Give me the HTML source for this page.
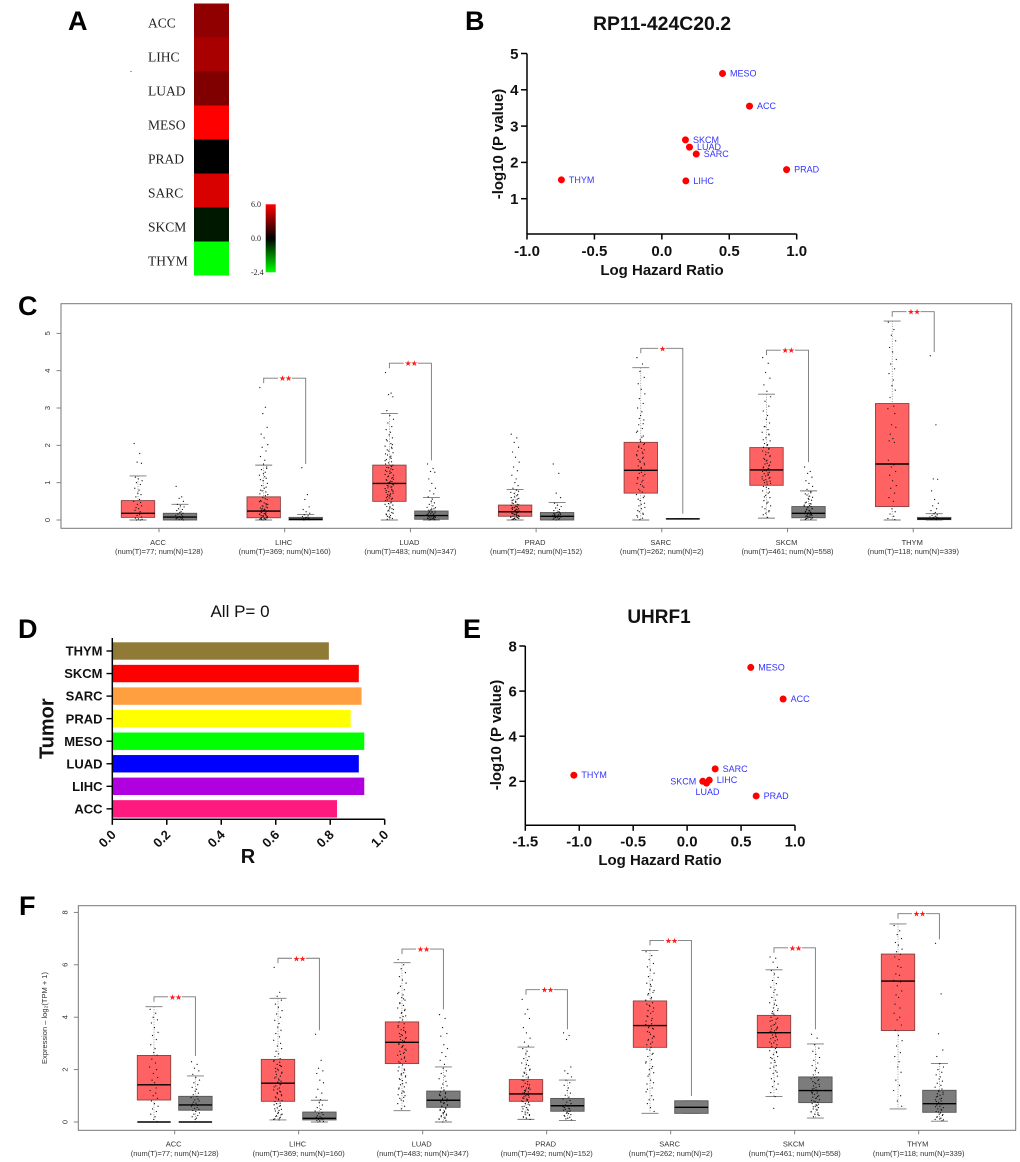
<!DOCTYPE html>
<html lang="en">
<head>
<meta charset="utf-8">
<title>Pan-cancer figure panels A-F</title>
<style>
html,body{margin:0;padding:0;background:#fff;}
svg{display:block;font-family:"Liberation Sans",Arial,sans-serif;filter:blur(0.3px);}
</style>
</head>
<body>
<svg id="figure" xmlns="http://www.w3.org/2000/svg" width="1020" height="1162" viewBox="0 0 1020 1162">
<defs>
<linearGradient id="cbar" x1="0" y1="0" x2="0" y2="1">
<stop offset="0" stop-color="#ff0000"/><stop offset="0.5" stop-color="#000000"/><stop offset="1" stop-color="#00ff00"/>
</linearGradient>
</defs>
<rect x="0" y="0" width="1020" height="1162" fill="#fff"/>
<g font-weight="bold" font-size="27" fill="#000">
<text x="68" y="30">A</text>
<text x="465" y="30">B</text>
<text x="18" y="315">C</text>
<text x="18" y="638">D</text>
<text x="463" y="638">E</text>
<text x="19" y="915">F</text>
</g>
<circle cx="131" cy="71.5" r="0.6" fill="#555"/>
</svg>
<script>
/* ---------- Panel A: heatmap ---------- */
const heatTumors = ['ACC','LIHC','LUAD','MESO','PRAD','SARC','SKCM','THYM'];
const heatValues = [3.4,3.95,3.0,6.0,0.0,5.1,-0.23,-2.4];
const heatLegendTicks = [6.0,0.0,-2.4];

/* ---------- Panel B: scatter ---------- */
const bTumors = ['MESO','ACC','SKCM','LUAD','SARC','PRAD','THYM','LIHC'];
const bHazard = [0.45,0.65,0.175,0.205,0.255,0.925,-0.745,0.178];
const bLogP = [4.45,3.55,2.62,2.42,2.23,1.8,1.52,1.49];
const bXTicks = [-1.0,-0.5,0.0,0.5,1.0];
const bYTicks = [1,2,3,4,5];

/* ---------- Panel E: scatter ---------- */
const eTumors = ['MESO','ACC','SARC','LIHC','LUAD','SKCM','THYM','PRAD'];
const eHazard = [0.59,0.89,0.26,0.205,0.18,0.145,-1.05,0.64];
const eLogP = [7.05,5.65,2.55,2.05,1.92,2.0,2.27,1.35];
const eXTicks = [-1.5,-1.0,-0.5,0.0,0.5,1.0];
const eYTicks = [2,4,6,8];

/* ---------- Panel D: bars ---------- */
const dTumors = ['THYM','SKCM','SARC','PRAD','MESO','LUAD','LIHC','ACC'];
const dValues = [0.795,0.905,0.915,0.875,0.925,0.905,0.925,0.825];
const dXTicks = [0.0,0.2,0.4,0.6,0.8,1.0];
const dColors = ['#8f7a36','#ff0000','#ff9f40','#ffff00','#00ff00','#0000ff','#b000e0','#ff1a80'];

/* ---------- Box panels shared ---------- */
const boxTumors = ['ACC','LIHC','LUAD','PRAD','SARC','SKCM','THYM'];
const boxCounts = ['(num(T)=77; num(N)=128)','(num(T)=369; num(N)=160)','(num(T)=483; num(N)=347)','(num(T)=492; num(N)=152)','(num(T)=262; num(N)=2)','(num(T)=461; num(N)=558)','(num(T)=118; num(N)=339)'];

/* ---------- Panel C: box statistics ---------- */
const cYTicks = [0,1,2,3,4,5];
const cTLow = [0,0,0,0,0,0.05,0];
const cTQ1 = [0.07,0.06,0.5,0.1,0.72,0.93,0.36];
const cTMed = [0.18,0.24,0.98,0.22,1.33,1.34,1.5];
const cTQ3 = [0.52,0.62,1.47,0.4,2.08,1.94,3.12];
const cTHigh = [1.18,1.47,2.85,0.82,4.08,3.37,5.33];
const cNLow = [0,0,0,0,0.03,0,0];
const cNQ1 = [0,0,0.02,0,0.03,0.06,0.01];
const cNMed = [0.08,0.02,0.12,0.1,0.03,0.18,0.03];
const cNQ3 = [0.18,0.07,0.24,0.2,0.03,0.36,0.07];
const cNHigh = [0.42,0.15,0.6,0.47,0.03,0.78,0.17];
const cBracketTop = [null,3.8,4.2,null,4.6,4.55,5.58];
const cBracketNormal = [null,1.5,1.6,null,0.17,1.55,4.5];
const cStars = ['','★★','★★','','★','★★','★★'];
const cTDots = [
[2.05,1.78,1.55,1.52,1.15,1.1,1.05,1.0,0.95,0.85,0.8,0.72,0.68,0.62,0.55,0.5,0.47,0.42,0.38,0.33,0.3,0.26,0.22,0.18,0.15,0.12,0.08,0.05,0.03,0.02,0,0],
[3.55,3.02,2.85,2.48,2.3,2.2,2.02,1.95,1.85,1.7,1.6,1.5,1.42,1.35,1.28,1.2,1.12,1.05,0.98,0.92,0.85,0.8,0.75,0.7,0.65,0.6,0.55,0.5,0.46,0.42,0.38,0.35,0.32,0.29,0.26,0.23,0.2,0.18,0.15,0.13,0.11,0.09,0.07,0.05,0.04,0.03,0.02,0.01,0,0.06,0.12,0.17,0.24,0.31,0.44,0.52,0.28,0.1,0.08,0.02,0.57,0.49,0.41,0.37,0.33,0.27,0.25,0.22,0.19,0.16,0.14,0.11,0.06,0.04,0.03,0.68,0.78,0.88,1.08,1.16,1.24,1.38],
[3.95,3.4,3.36,3.3,2.93,2.8,2.7,2.6,2.5,2.42,2.35,2.28,2.2,2.12,2.05,1.98,1.92,1.85,1.8,1.74,1.68,1.62,1.56,1.5,1.45,1.4,1.35,1.3,1.25,1.2,1.16,1.12,1.08,1.04,1.0,0.96,0.92,0.88,0.84,0.8,0.76,0.72,0.68,0.64,0.6,0.56,0.52,0.48,0.44,0.4,0.36,0.32,0.28,0.24,0.2,0.16,0.12,0.08,0.04,0.02,1.37,1.22,1.03,0.91,0.77,0.63,0.35,0.14,1.43,1.33,1.27,1.18,1.14,1.06,1.01,0.94,0.86,0.82,0.74,0.7,0.66,0.58,0.54,0.46,0.42,0.3,0.26,0.18,0.1,0.06,2.15,1.95,1.77,1.65,1.53,1.47,1.41,1.31,1.09,0.99,0.89,0.79,0.69,0.59,2.02,1.88,1.71,1.59],
[2.3,2.2,2.08,1.95,1.82,1.68,1.55,1.42,1.32,1.2,1.1,1.0,0.92,0.85,0.8,0.74,0.68,0.62,0.58,0.54,0.5,0.46,0.42,0.39,0.36,0.33,0.3,0.28,0.26,0.24,0.22,0.2,0.18,0.16,0.14,0.12,0.1,0.08,0.07,0.06,0.05,0.04,0.03,0.02,0.01,0.27,0.23,0.19,0.15,0.11,0.33,0.37,0.09,0.02,0.35,0.31,0.29,0.25,0.21,0.17,0.13,0.09,0.06,0.04,0.41,0.44,0.48,0.52,0.56,0.6,0.65,0.71,0.77],
[4.35,4.18,3.98,3.82,3.65,3.5,3.38,3.25,3.12,3.0,2.9,2.8,2.68,2.55,2.45,2.35,2.25,2.15,2.05,1.98,1.92,1.85,1.78,1.72,1.65,1.58,1.52,1.45,1.38,1.32,1.25,1.18,1.1,1.02,0.95,0.88,0.82,0.75,0.68,0.6,0.52,0.45,0.38,0.3,0.25,0.18,0.12,0.05,0.01,1.88,1.62,1.41,1.22,2.72,2.58,2.38,2.22,2.1,2.02,1.95,1.82,1.75,1.68,1.55,1.48,1.35,1.28,1.14,1.06,0.98,0.91,0.78,0.64,0.56,0.42,0.34,0.22,0.15,0.08],
[4.35,4.2,3.95,3.8,3.62,3.45,3.3,3.18,3.05,2.92,2.8,2.7,2.6,2.5,2.42,2.35,2.28,2.2,2.12,2.05,2.0,1.95,1.9,1.85,1.8,1.75,1.7,1.65,1.6,1.55,1.5,1.45,1.4,1.36,1.32,1.28,1.24,1.2,1.16,1.12,1.08,1.04,1.0,0.96,0.9,0.84,0.78,0.72,0.66,0.6,0.52,0.45,0.38,0.3,0.22,0.14,0.07,1.58,1.47,1.33,1.26,1.1,1.92,1.82,1.72,1.62,1.52,1.42,1.38,1.3,1.22,1.18,1.14,1.06,1.02,0.98,2.5,2.3,2.15,2.02,0.88,0.75,0.62,0.48,0.35,0.25,0.18],
[5.3,5.1,4.95,4.8,4.62,4.5,4.3,4.18,4.05,3.92,3.75,3.6,3.48,3.28,3.05,2.98,2.85,2.55,2.48,2.3,2.18,2.12,2.08,1.6,1.48,1.42,1.3,1.2,1.05,0.92,0.85,0.72,0.6,0.5,0.3,0.22,0.16,0.1,0.04,0.01]
];
const cNDots = [
[0.9,0.62,0.58,0.5,0.42,0.38,0.35,0.3,0.28,0.25,0.22,0.2,0.18,0.16,0.14,0.12,0.1,0.09,0.08,0.07,0.06,0.05,0.04,0.03,0.02,0.01,0],
[1.4,0.68,0.55,0.35,0.28,0.22,0.18,0.14,0.11,0.09,0.07,0.06,0.05,0.04,0.03,0.02,0.02,0.01,0.01,0],
[1.5,1.38,1.3,1.28,1.1,0.98,0.85,0.78,0.7,0.62,0.56,0.5,0.46,0.42,0.38,0.34,0.3,0.27,0.24,0.22,0.2,0.18,0.16,0.14,0.12,0.11,0.1,0.09,0.08,0.07,0.06,0.05,0.04,0.03,0.02,0.01,0,0.13,0.15,0.09,0.17,0.19,0.21,0.23,0.11,0.07,0.05,0.03,0.02,0.01,0.26,0.29,0.33],
[1.5,1.25,0.72,0.6,0.45,0.4,0.36,0.32,0.28,0.25,0.22,0.2,0.18,0.16,0.14,0.12,0.1,0.09,0.08,0.07,0.06,0.05,0.04,0.02,0.01,0,0.15,0.13,0.11,0.09,0.07,0.21,0.17],
[],
[1.42,1.3,1.25,1.15,1.05,0.98,0.9,0.82,0.76,0.7,0.64,0.58,0.53,0.48,0.44,0.4,0.36,0.33,0.3,0.27,0.24,0.22,0.2,0.18,0.16,0.14,0.12,0.1,0.08,0.06,0.04,0.02,0.01,0.25,0.19,0.15,0.11,0.07,0.37,0.43,0.35,0.31,0.29,0.26,0.23,0.21,0.17,0.13,0.09,0.05,0.03,0.55,0.61,0.67,0.73,0.46,0.39],
[4.4,2.55,1.1,1.09,0.78,0.55,0.45,0.38,0.3,0.25,0.2,0.17,0.14,0.12,0.1,0.08,0.07,0.06,0.05,0.04,0.03,0.02,0.01]
];

/* ---------- Panel F: box statistics ---------- */
const fYTicks = [0,2,4,6,8];
const fTLow = [0,0.08,0.43,0.1,0.33,0.97,0.5];
const fTQ1 = [0.84,0.79,2.23,0.79,2.85,2.84,3.49];
const fTMed = [1.42,1.48,3.04,1.07,3.68,3.41,5.38];
const fTQ3 = [2.54,2.39,3.82,1.62,4.62,4.07,6.41];
const fTHigh = [4.4,4.72,6.08,2.86,6.55,5.81,7.56];
const fNLow = [0,0,0,0.06,0.33,0.15,0.03];
const fNQ1 = [0.45,0.08,0.56,0.41,0.33,0.74,0.37];
const fNMed = [0.65,0.14,0.83,0.62,0.56,1.2,0.7];
const fNQ3 = [0.98,0.38,1.18,0.9,0.81,1.72,1.21];
const fNHigh = [1.76,0.83,2.1,1.6,0.81,2.98,2.23];
const fZeroLine = ['ACC'];
const fBracketTop = [4.78,6.25,6.6,5.05,6.93,6.65,7.95];
const fBracketNormal = [2.52,3.5,4.3,3.54,0.99,3.54,6.97];
const fStars = ['★★','★★','★★','★★','★★','★★','★★'];
const fTDots = [
[4.3,4.15,4.0,3.9,3.78,3.6,3.42,3.3,3.15,2.95,2.8,2.65,2.55,2.4,2.25,2.1,2.0,1.85,1.7,1.6,1.5,1.42,1.3,1.2,1.1,1.0,0.9,0.8,0.7,0.6,0.5,0.4,0.3,0.2,0.1,0.02,0],
[5.9,4.95,4.8,4.65,4.5,4.38,4.25,4.12,4.0,3.88,3.76,3.62,3.5,3.38,3.25,3.12,3.0,2.9,2.8,2.7,2.6,2.5,2.42,2.35,2.28,2.2,2.12,2.05,1.98,1.9,1.82,1.75,1.68,1.6,1.52,1.45,1.38,1.3,1.22,1.15,1.08,1.0,0.92,0.85,0.78,0.72,0.66,0.6,0.54,0.48,0.42,0.36,0.3,0.24,0.18,0.12,0.08,1.26,1.56,1.92,2.16,2.32,2.14,2.02,1.86,1.72,1.64,1.48,1.42,1.34,1.18,1.12,1.04,0.96,0.88,0.82,0.7,0.63,0.5,0.44,0.33,0.27,0.21,0.15,0.1],
[6.2,6.0,5.85,5.7,5.55,5.42,5.3,5.18,5.05,4.95,4.85,4.75,4.65,4.55,4.45,4.35,4.25,4.15,4.05,3.98,3.9,3.82,3.75,3.68,3.6,3.52,3.45,3.38,3.3,3.22,3.15,3.08,3.0,2.92,2.85,2.78,2.7,2.62,2.55,2.48,2.4,2.32,2.25,2.18,2.1,2.02,1.95,1.88,1.8,1.72,1.65,1.58,1.5,1.42,1.34,1.26,1.18,1.1,1.0,0.9,0.8,0.7,0.6,0.5,3.4,3.26,3.11,2.96,2.66,3.62,3.5,3.34,3.18,3.04,2.88,2.74,2.58,2.44,2.3,4.02,4.18,4.3,4.52,4.7,4.9,1.98,1.84,1.76,1.62,1.46,1.3,1.14,1.04,0.94,0.84],
[4.68,4.3,4.12,3.95,3.6,3.4,3.2,3.05,2.9,2.8,2.7,2.6,2.5,2.42,2.35,2.25,2.15,2.05,1.98,1.9,1.82,1.75,1.68,1.6,1.54,1.48,1.42,1.36,1.3,1.25,1.2,1.15,1.1,1.05,1.0,0.95,0.9,0.85,0.8,0.75,0.7,0.65,0.6,0.55,0.5,0.45,0.4,0.35,0.3,0.25,0.2,0.15,0.1,1.12,1.02,0.92,0.82,1.22,1.32,1.58,1.44,1.34,1.28,1.18,1.08,0.98,0.88,0.78,0.68,0.58,0.48,0.38,0.28,0.18,2.2,2.02,1.86,1.72],
[6.5,6.35,6.2,6.05,5.92,5.8,5.68,5.55,5.42,5.3,5.18,5.05,4.95,4.85,4.75,4.65,4.55,4.45,4.35,4.25,4.15,4.05,3.95,3.85,3.75,3.65,3.55,3.45,3.35,3.25,3.15,3.05,2.95,2.85,2.75,2.62,2.5,2.38,2.25,2.12,2.0,1.88,1.75,1.6,1.45,1.3,1.15,1.0,0.85,0.85,0.7,0.55,0.4,3.6,3.2,4.5,4.7,4.42,4.22,4.02,3.88,3.72,3.58,3.42,3.28,3.12,2.98,2.78,2.58,2.3,2.05,1.82,1.5,1.25,5.25,5.02,4.9],
[6.3,6.25,6.1,5.9,5.78,5.65,5.52,5.4,5.28,5.15,5.05,4.95,4.85,4.75,4.65,4.55,4.45,4.35,4.25,4.15,4.08,4.0,3.92,3.85,3.78,3.7,3.62,3.55,3.48,3.4,3.32,3.25,3.18,3.1,3.02,2.95,2.88,2.8,2.72,2.65,2.58,2.5,2.42,2.35,2.25,2.15,2.05,1.95,1.85,1.75,1.65,1.55,1.45,1.35,1.25,1.12,0.97,0.52,3.58,3.44,3.28,3.05,2.85,4.12,3.96,3.88,3.72,3.66,3.52,3.46,3.36,3.22,3.14,2.98,4.5,4.32,4.22,2.68,2.46,2.28,2.1,1.9],
[7.5,7.3,7.15,7.0,6.85,6.75,6.6,6.5,6.4,6.3,6.2,5.95,5.9,5.65,5.6,5.4,5.35,5.2,5.0,4.85,4.75,4.5,4.35,4.15,4.0,3.9,3.7,3.5,3.3,3.1,2.9,2.65,2.5,2.3,2.1,1.9,1.6,1.4,1.2,1.0,0.8,0.6]
];
const fNDots = [
[2.3,2.2,2.05,1.95,1.82,1.7,1.6,1.5,1.42,1.32,1.25,1.18,1.1,1.04,0.98,0.93,0.88,0.84,0.8,0.76,0.72,0.68,0.64,0.6,0.56,0.52,0.48,0.44,0.4,0.35,0.3,0.25,0.2,0.15,0.1],
[3.35,2.35,2.05,1.95,1.85,1.6,1.5,1.25,1.1,0.95,0.85,0.75,0.65,0.55,0.48,0.42,0.36,0.32,0.28,0.24,0.2,0.18,0.16,0.14,0.12,0.1,0.08,0.06,0.04,0.02,0],
[4.1,3.95,3.6,3.38,3.28,2.95,2.8,2.65,2.5,2.35,2.2,2.05,1.95,1.85,1.75,1.65,1.55,1.45,1.38,1.3,1.22,1.15,1.08,1.02,0.96,0.9,0.84,0.78,0.72,0.66,0.6,0.54,0.48,0.42,0.36,0.3,0.24,0.18,0.12,0.06,0,0.88,0.82,0.74,1.0,1.12,1.06,0.94,0.86,0.8,0.76,0.7,0.64,0.58,0.5,0.44,0.38,0.32,0.26,0.2,0.14,0.1],
[3.4,3.3,3.15,2.1,1.95,1.85,1.72,1.6,1.5,1.4,1.3,1.2,1.1,1.02,0.95,0.88,0.82,0.76,0.7,0.65,0.6,0.55,0.5,0.45,0.4,0.34,0.28,0.22,0.15,0.08,0.12,0.18,0.25,0.32,0.38,0.42,0.48,0.52,0.58,0.63],
[],
[3.35,3.2,2.95,2.82,2.7,2.58,2.46,2.35,2.25,2.15,2.05,1.96,1.88,1.8,1.72,1.65,1.58,1.5,1.44,1.38,1.32,1.26,1.2,1.15,1.1,1.05,1.0,0.95,0.9,0.85,0.8,0.75,0.7,0.65,0.6,0.55,0.5,0.45,0.4,0.35,0.3,0.25,0.2,1.23,1.12,0.98,0.82,0.62,1.7,1.62,1.54,1.46,1.36,1.28,1.18,1.08,0.92,0.78,0.68,0.58,0.48,0.38,0.28],
[6.82,4.89,3.37,2.75,2.5,2.23,2.1,2.0,1.9,1.8,1.72,1.64,1.56,1.48,1.4,1.33,1.26,1.2,1.14,1.08,1.02,0.96,0.9,0.85,0.8,0.75,0.7,0.65,0.6,0.55,0.5,0.45,0.4,0.35,0.3,0.25,0.2,0.15,0.1,0.05,1.16,1.06,0.98,0.88,0.78,0.68,0.58,0.48,0.38,0.28,0.18,0.12,0.08]
];
const jitterPattern = [-0.9,0.4,-0.2,0.8,-0.6,0.1,0.95,-0.35,0.55,-0.75,0.25,-0.05,0.7,-0.5,0.35,-1,0.6,-0.15,0.85,-0.45,0.15,-0.7,0.5];

/* ---------- Drawing helpers ---------- */
const NS = 'http://www.w3.org/2000/svg';
const svg = document.getElementById('figure');
function make(tag, attrs, parent){
  const node = document.createElementNS(NS, tag);
  for (const k in attrs) node.setAttribute(k, attrs[k]);
  (parent || svg).appendChild(node);
  return node;
}
function line(parent, x1, y1, x2, y2, stroke, width){
  return make('line', {x1:x1, y1:y1, x2:x2, y2:y2, stroke:stroke, 'stroke-width':width}, parent);
}
function text(parent, x, y, str, style){
  const node = make('text', Object.assign({x:x, y:y}, style), parent);
  node.textContent = str;
  return node;
}

/* ---------- Panel A ---------- */
(function(){
  const g = make('g', {});
  
  
  const top = 3.5, cellH = 34;
  function heatColor(v){
    if (v >= 0) return 'rgb(' + Math.round(v / 6 * 255) + ',0,0)';
    return 'rgb(0,' + Math.round(-v / 2.4 * 255) + ',0)';
  }
  heatTumors.forEach(function(t, i){
    const cell = make('rect', {x:194, y:top + i * cellH, width:35, height:cellH, fill:heatColor(heatValues[i])}, g);
    
    
    const lab = text(g, 148, top + i * cellH + 24, t, {'font-family':'"Liberation Serif",serif','font-size':13.5,fill:'#222'});
    
    
  });
  const bar = make('rect', {x:265.7, y:204.3, width:10, height:68, fill:'url(#cbar)'}, g);
  
  
  heatLegendTicks.forEach(function(v){
    const frac = v >= 0 ? 0.5 - 0.5 * v / 6 : 0.5 + 0.5 * (-v) / 2.4;
    const tick = text(g, 251, 204.3 + 68 * frac + 2.5, v.toFixed(1), {'font-family':'"Liberation Serif",serif','font-size':8,fill:'#222'});
    
    
  });
})();

/* ---------- Panels B and E ---------- */
function drawScatter(name, tumors, hazard, logP, xTicks, yTicks, o){
  const g = make('g', {});
  
  
  const xS = function(v){ return o.x0 + (v - xTicks[0]) * o.xUnit; };
  const yS = function(v){ return o.y0 - v * o.yUnit; };
  const tickStyle = {'font-weight':'bold','font-size':15,fill:'#111'};
  const xAxis = line(g, xS(xTicks[0]), o.axisY, xS(xTicks[xTicks.length - 1]), o.axisY, '#000', 1.5);
  
  
  const yAxis = line(g, o.x0, o.axisY, o.x0, yS(yTicks[yTicks.length - 1]), '#000', 1.5);
  
  
  xTicks.forEach(function(v){
    const tk = line(g, xS(v), o.axisY, xS(v), o.axisY + 5.5, '#000', 1.5);
    
    
    const lb = text(g, xS(v), o.xLabelY, v.toFixed(1), Object.assign({'text-anchor':'middle'}, tickStyle));
    
    
  });
  yTicks.forEach(function(v){
    const tk = line(g, o.x0 - 6, yS(v), o.x0, yS(v), '#000', 1.5);
    
    
    const lb = text(g, o.x0 - 8.5, yS(v) + 5.3, String(v), Object.assign({'text-anchor':'end'}, tickStyle));
    
    
  });
  tumors.forEach(function(t, i){
    const px = xS(hazard[i]), py = yS(logP[i]);
    const pt = make('circle', {cx:px, cy:py, r:3.5, fill:'#ff0000'}, g);
    
    
    const place = (o.labelPlace && o.labelPlace[t]) || {dx:7.5, dy:3, anchor:'start'};
    const lb = text(g, px + place.dx, py + place.dy, t, {'font-size':9,fill:'#3333ff','text-anchor':place.anchor});
    
    
  });
  const title = text(g, o.titleX, o.titleY, o.title, {'font-weight':'bold','font-size':o.titleSize,'text-anchor':'middle',fill:'#111'});
  
  
  const xt = text(g, o.xTitleX, o.xTitleY, 'Log Hazard Ratio', {'font-weight':'bold','font-size':15,'text-anchor':'middle',fill:'#111'});
  
  
  const yt = text(g, 0, 0, '-log10 (P value)', {'font-weight':'bold','font-size':15,'text-anchor':'middle',fill:'#111',transform:'translate(' + o.yTitleX + ',' + o.yTitleY + ') rotate(-90)'});
  
  
}
drawScatter('rp11', bTumors, bHazard, bLogP, bXTicks, bYTicks, {
  x0:527, xUnit:134.85, y0:235, yUnit:36.3, axisY:234,
  xLabelY:256, title:'RP11-424C20.2', titleSize:19.4, titleX:662, titleY:30,
  xTitleX:662, xTitleY:275, yTitleX:503, yTitleY:144
});
drawScatter('uhrf1', eTumors, eHazard, eLogP, eXTicks, eYTicks, {
  x0:525.3, xUnit:107.88, y0:826.4, yUnit:22.55, axisY:825.3,
  xLabelY:846.7, title:'UHRF1', titleSize:19, titleX:659, titleY:623,
  xTitleX:660, xTitleY:865, yTitleX:501, yTitleY:735,
  labelPlace:{SKCM:{dx:-6.5,dy:3,anchor:'end'},LUAD:{dx:1,dy:12,anchor:'middle'}}
});

/* ---------- Panel D ---------- */
(function(){
  const g = make('g', {});
  
  
  const xS = function(v){ return 112.3 + v * 272.4; };
  const base = 819.3;
  const bandTop = function(i){ return 642.3 + i * 22.55; };
  dTumors.forEach(function(t, i){
    const bar = make('rect', {x:xS(0), y:bandTop(i), width:xS(dValues[i]) - xS(0), height:17.4, fill:dColors[i]}, g);
    
    
    const tk = line(g, 106.5, bandTop(i) + 8.7, 112.3, bandTop(i) + 8.7, '#000', 1.4);
    
    
    const lb = text(g, 102.5, bandTop(i) + 13.3, t, {'font-weight':'bold','font-size':13,'text-anchor':'end',fill:'#111'});
    
    
  });
  const ya = line(g, 112.3, 638, 112.3, base, '#000', 1.5);
  
  
  const xa = line(g, 112.3, base, xS(1), base, '#000', 1.5);
  
  
  dXTicks.forEach(function(v){
    const tk = line(g, xS(v), base, xS(v), base + 5.5, '#000', 1.5);
    
    
    const lb = text(g, 0, 0, v.toFixed(1), {'font-weight':'bold','font-size':13,'text-anchor':'end',fill:'#111',transform:'translate(' + (xS(v) + 4.5) + ',835.5) rotate(-45)'});
    
    
  });
  const ti = text(g, 240, 617, 'All P= 0', {'font-size':17,'text-anchor':'middle',fill:'#111'});
  
  
  const xt = text(g, 248, 863, 'R', {'font-weight':'bold','font-size':20,'text-anchor':'middle',fill:'#111'});
  
  
  const yt = text(g, 0, 0, 'Tumor', {'font-weight':'bold','font-size':20,'text-anchor':'middle',fill:'#111',transform:'translate(53.3,728.7) rotate(-90)'});
  
  
})();

/* ---------- Panels C and F ---------- */
function drawOneBox(g, cx, low, q1, med, q3, high, y, fill, edge, tag, dots){
  const whisker = line(g, cx, y(high), cx, y(low), '#666', 0.6);
  whisker.setAttribute('stroke-dasharray', '1 1.5');
  
  
  const capTop = line(g, cx - 8.5, y(high), cx + 8.5, y(high), '#777', 0.9);
  
  
  const capLow = line(g, cx - 8.5, y(low), cx + 8.5, y(low), '#777', 0.9);
  
  
  const box = make('rect', {x:cx - 16.7, y:y(q3), width:33.4, height:Math.max(0.01, y(q1) - y(q3)), fill:fill, stroke:edge, 'stroke-width':0.9}, g);
  
  
  dots.forEach(function(v, k){
    const d = make('circle', {cx:cx + jitterPattern[k % jitterPattern.length] * 4.3, cy:y(v), r:0.62, fill:'#111'}, g);
    
    
  });
  const m = line(g, cx - 16.7, y(med), cx + 16.7, y(med), '#000', 1.4);
  
  
}
function drawBoxPanel(name, T, N, bracketTop, bracketNormal, stars, yTicks, o){
  const g = make('g', {});
  
  
  const y = function(v){ return o.y0 - v * o.yUnit; };
  const xT = function(i){ return o.x0 + i * o.xStep; };
  const frame = make('rect', {x:o.left, y:o.top, width:o.right - o.left, height:o.bottom - o.top, fill:'none', stroke:'#777', 'stroke-width':1}, g);
  
  
  yTicks.forEach(function(v){
    const tk = line(g, o.left - 4.5, y(v), o.left, y(v), '#777', 0.9);
    
    
    const lb = text(g, 0, 0, String(v), {'font-size':7.5,'text-anchor':'middle',fill:'#333',transform:'translate(' + (o.left - 11) + ',' + y(v) + ') rotate(-90)'});
    
    
  });
  boxTumors.forEach(function(t, i){
    const c = xT(i), cT = c - o.offset, cN = c + o.offset;
    drawOneBox(g, cT, T.low[i], T.q1[i], T.med[i], T.q3[i], T.high[i], y, '#ff6262', '#8c4040', 'tumor-' + t.toLowerCase(), T.dots[i]);
    drawOneBox(g, cN, N.low[i], N.q1[i], N.med[i], N.q3[i], N.high[i], y, '#7c7c7c', '#565656', 'normal-' + t.toLowerCase(), N.dots[i]);
    if (o.zeroLine.indexOf(t) >= 0) {
      const z1 = line(g, cT - 16.7, y(0), cT + 16.7, y(0), '#000', 1.4);
      
      
      const z2 = line(g, cN - 16.7, y(0), cN + 16.7, y(0), '#000', 1.4);
      
      
    }
    if (bracketTop[i] !== null) {
      const by = y(bracketTop[i]), mid = (cT + cN) / 2 + 0.3;
      const gap = stars[i].length > 1 ? 7 : 4;
      const br = make('path', {d:'M' + cT + ' ' + (by + 5) + 'V' + by + 'H' + (mid - gap) + 'M' + (mid + gap) + ' ' + by + 'H' + cN + 'V' + y(bracketNormal[i]), fill:'none', stroke:'#777', 'stroke-width':0.9}, g);
      
      
      const st = text(g, mid, by + 3, stars[i], {'font-family':'"DejaVu Sans",sans-serif','font-size':8,'letter-spacing':'-1px','text-anchor':'middle',fill:'#ff1a1a'});
      
      
    }
    const tk = line(g, c, o.bottom, c, o.bottom + 4, '#777', 0.9);
    
    
    const lb = text(g, c - 1, o.labelY, t, {'font-size':7.5,'text-anchor':'middle',fill:'#333'});
    
    
    const ct = text(g, c, o.labelY + 9.2, boxCounts[i], {'font-size':7.5,'text-anchor':'middle',fill:'#333'});
    
    
  });
}
drawBoxPanel('c',
  {low:cTLow, q1:cTQ1, med:cTMed, q3:cTQ3, high:cTHigh, dots:cTDots},
  {low:cNLow, q1:cNQ1, med:cNMed, q3:cNQ3, high:cNHigh, dots:cNDots},
  cBracketTop, cBracketNormal, cStars, cYTicks,
  {left:61, right:1011.7, top:303.7, bottom:528.3, y0:520, yUnit:37.33, x0:159, xStep:125.7, offset:21, labelY:545, zeroLine:[]});
drawBoxPanel('f',
  {low:fTLow, q1:fTQ1, med:fTMed, q3:fTQ3, high:fTHigh, dots:fTDots},
  {low:fNLow, q1:fNQ1, med:fNMed, q3:fNQ3, high:fNHigh, dots:fNDots},
  fBracketTop, fBracketNormal, fStars, fYTicks,
  {left:78.3, right:1015.7, top:905.7, bottom:1130.3, y0:1122, yUnit:26.2, x0:174.7, xStep:124, offset:20.7, labelY:1146.7, zeroLine:fZeroLine});
const fYTitle = make('text', {'font-size':7.5,'text-anchor':'middle',fill:'#333',transform:'translate(47,1018) rotate(-90)'});
fYTitle.textContent = 'Expression – log₂(TPM + 1)';


</script>
</body>
</html>
